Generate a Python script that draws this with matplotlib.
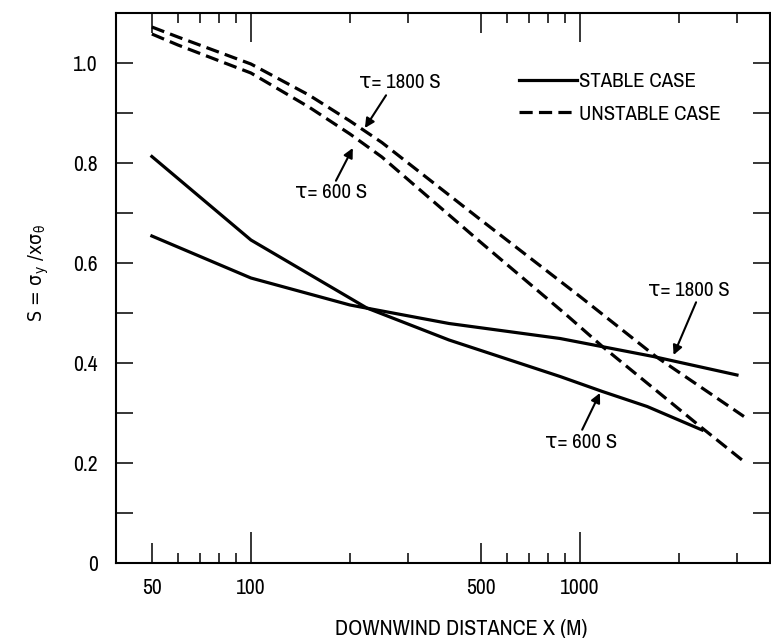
import matplotlib
matplotlib.use("Agg")
import matplotlib.pyplot as plt
from matplotlib.lines import Line2D
from matplotlib.ticker import FixedLocator, NullFormatter
from matplotlib import font_manager

names = {f.name for f in font_manager.fontManager.ttflist}
FONT = 'Archivo Narrow' if 'Archivo Narrow' in names else 'Liberation Sans'
plt.rcParams['font.family'] = [FONT, 'DejaVu Sans']
plt.rcParams['mathtext.fontset'] = 'dejavusans'
plt.rcParams['mathtext.default'] = 'regular'
plt.rcParams['lines.scale_dashes'] = False

# ---- data ----
x_stable_600 = [50, 100, 225, 400, 870, 1170, 1600, 2350]
y_stable_600 = [0.813, 0.646, 0.51, 0.446, 0.373, 0.343, 0.313, 0.266]

x_stable_1800 = [50, 100, 200, 400, 870, 1670, 3000]
y_stable_1800 = [0.654, 0.57, 0.516, 0.479, 0.449, 0.413, 0.376]

x_unstable_600 = [50, 60, 100, 150, 200, 250, 500, 910, 1170, 2320, 3150]
y_unstable_600 = [1.058, 1.036, 0.980, 0.912, 0.858, 0.812, 0.641, 0.496, 0.433, 0.273, 0.203]

x_unstable_1800 = [50, 60, 100, 150, 200, 250, 500, 1000, 1700, 3150]
y_unstable_1800 = [1.072, 1.052, 0.998, 0.936, 0.884, 0.841, 0.686, 0.533, 0.413, 0.293]

x_tick_labels = [50, 100, 500, 1000]
y_tick_values = [0, 0.2, 0.4, 0.6, 0.8, 1.0]
y_tick_labels = ['0', '0.2', '0.4', '0.6', '0.8', '1.0']

fig = plt.figure(figsize=(7.71, 6.38), dpi=100)
ax = fig.add_axes([116/771, 1 - 563/638, 654/771, 550/638])

LW = 2.3
DASH = (0, (9.5, 4.5))
ax.plot(x_stable_600, y_stable_600, color='black', lw=LW, solid_joinstyle='round')
ax.plot(x_stable_1800, y_stable_1800, color='black', lw=LW, solid_joinstyle='round')
ax.plot(x_unstable_600, y_unstable_600, color='black', lw=LW, linestyle=DASH)
ax.plot(x_unstable_1800, y_unstable_1800, color='black', lw=LW, linestyle=DASH)

ax.set_xscale('log')
ax.set_xlim(38.9, 3780)
ax.set_ylim(0, 1.1)

for s in ax.spines.values():
    s.set_linewidth(1.5)

major_x = [50, 100, 500, 1000]
minor_x = [60, 70, 80, 90, 200, 300, 600, 700, 800, 900, 2000, 3000]
ax.xaxis.set_major_locator(FixedLocator(major_x))
ax.xaxis.set_minor_locator(FixedLocator(minor_x))
ax.xaxis.set_minor_formatter(NullFormatter())
ax.set_xticklabels([str(v) for v in x_tick_labels])
ax.tick_params(axis='x', which='both', direction='in', top=True, bottom=True,
               width=1.1, labelsize=15.5, pad=11)
ax.tick_params(axis='x', which='minor', length=7.2)
ax.tick_params(axis='x', which='major', length=14.4)
for t, v in zip(ax.xaxis.get_major_ticks(), major_x):
    if v in (100, 1000):
        t.tick1line.set_markersize(22)
        t.tick2line.set_markersize(21)

ax.yaxis.set_major_locator(FixedLocator(y_tick_values))
ax.yaxis.set_minor_locator(FixedLocator([0.1, 0.3, 0.5, 0.7, 0.9]))
ax.set_yticklabels(y_tick_labels)
ax.tick_params(axis='y', which='both', direction='in', left=True, right=True,
               length=12.5, width=1.1, labelsize=15.5, pad=13)

ax.set_xlabel('DOWNWIND DISTANCE X (M)', fontsize=16)
ax.xaxis.set_label_coords((461 - 116) / 654, (563 - 619) / 550)
ax.set_ylabel(r'S = σ$_y$ /xσ$_θ$', fontsize=14, family='DejaVu Sans',
              fontstretch='condensed')
ax.yaxis.set_label_coords((51 - 116) / 654, (563 - 273) / 550)

handles = [Line2D([], [], color='black', lw=LW),
           Line2D([], [], color='black', lw=LW, linestyle=DASH)]
ax.legend(handles, ['STABLE CASE', 'UNSTABLE CASE'], loc='center left',
          bbox_to_anchor=((519 - 116) / 654, (563 - 98) / 550), frameon=False,
          fontsize=15, handlelength=2.8, handletextpad=0.1, labelspacing=0.65,
          borderpad=0, borderaxespad=0)

ap = dict(arrowstyle='-|>', color='black', lw=1.5, mutation_scale=14, shrinkA=0, shrinkB=0)
TF = 15
ax.annotate('τ= 1800 S', xy=(222, 0.87), xytext=(284, 0.96), fontsize=TF,
            ha='center', va='center', arrowprops=dict(ap, relpos=(0.35, 0)))
ax.annotate('τ= 600 S', xy=(204, 0.83), xytext=(175, 0.74), fontsize=TF,
            ha='center', va='center', arrowprops=dict(ap, relpos=(0.55, 1)))
ax.annotate('τ= 1800 S', xy=(1925, 0.416), xytext=(2146, 0.546), fontsize=TF,
            ha='center', va='center', arrowprops=dict(ap, relpos=(0.6, 0)))
ax.annotate('τ= 600 S', xy=(1150, 0.34), xytext=(1006, 0.242), fontsize=TF,
            ha='center', va='center', arrowprops=dict(ap, relpos=(0.5, 1)))

fig.savefig('out.png', dpi=100)
